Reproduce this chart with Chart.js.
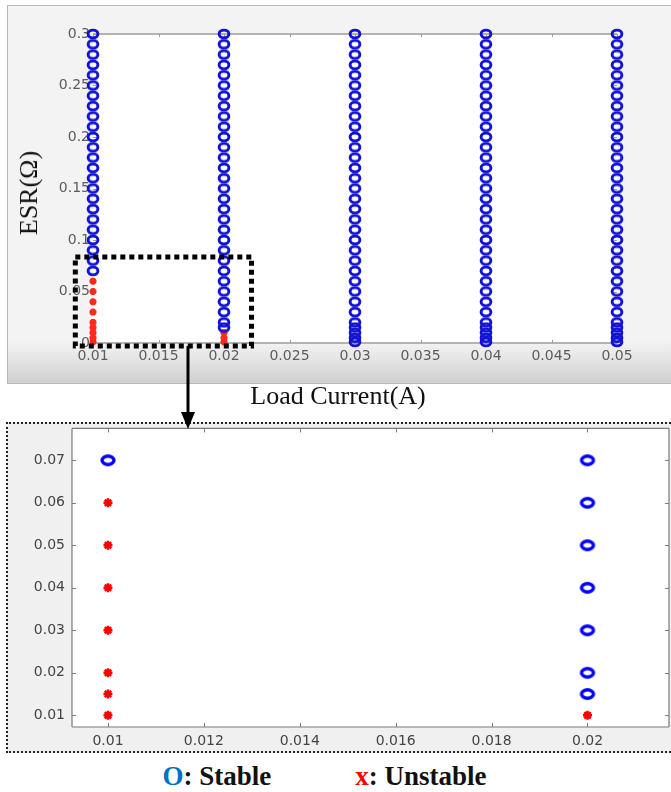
<!DOCTYPE html>
<html>
<head>
<meta charset="utf-8">
<script src="https://cdn.jsdelivr.net/npm/chart.js@4.4.1/dist/chart.umd.min.js"></script>
<style>
  body { margin: 0; background: #fff; width: 671px; height: 792px; position: relative; overflow: hidden; }
  .abs { position: absolute; }
  #topPanel { left: 7px; top: 5px; width: 670px; height: 377px; border: 1px solid #b8b8b8;
    background: linear-gradient(to bottom, #f3f3f3 0%, #f3f3f3 89%, #e4e4e4 94%, #cfcfcf 100%); }
  #zoomFrame { left: 6px; top: 422px; width: 668px; height: 327px; border: 2px dotted #222; background: #f0f0f0; }
  .serif { font-family: "Liberation Serif", "Times New Roman", serif; color: #111; white-space: nowrap; }
  #esrTitle { left: 29px; top: 193px; font-size: 26px; transform: translate(-50%, -50%) rotate(-90deg); }
  #loadTitle { left: 338px; top: 396px; font-size: 26px; transform: translate(-50%, -50%); }
  #legend { left: -11px; top: 761px; width: 671px; text-align: center; font-size: 27px; font-weight: bold; }
</style>
</head>
<body>
<div id="topPanel" class="abs"></div>
<canvas id="topChart" class="abs" width="671" height="383" style="left:0;top:0"></canvas>
<div id="esrTitle" class="abs serif">ESR(Ω)</div>
<div id="loadTitle" class="abs serif">Load Current(A)</div>

<div id="zoomFrame" class="abs"></div>
<canvas id="zoomChart" class="abs" width="676" height="332" style="left:0;top:413px"></canvas>

<svg class="abs" style="left:0;top:0" width="671" height="440">
  <line x1="188" y1="346" x2="188" y2="414" stroke="#000" stroke-width="3"/>
  <polygon points="181,412 195,412 188,429" fill="#000"/>
</svg>

<div id="legend" class="abs serif"><span style="color:#0070c0">O</span>: Stable<span style="display:inline-block;width:84px"></span><span style="color:#ff0000">x</span>: Unstable</div>

<script>
// load currents swept (A) and ESR values swept (ohm)
const loadCurrents = [0.01, 0.02, 0.03, 0.04, 0.05];
const esrSweep = [0.001, 0.005, 0.01, 0.015, 0.02, 0.03, 0.04, 0.05, 0.06, 0.07, 0.08, 0.09, 0.1,
  0.11, 0.12, 0.13, 0.14, 0.15, 0.16, 0.17, 0.18, 0.19, 0.2, 0.21, 0.22, 0.23, 0.24, 0.25,
  0.26, 0.27, 0.28, 0.29, 0.3];
// smallest ESR that is still stable, per load current
const stableFromEsr = [0.07, 0.015, 0.001, 0.001, 0.001];

const topXTicks = [0.01, 0.015, 0.02, 0.025, 0.03, 0.035, 0.04, 0.045, 0.05];
const topYTicks = [0, 0.05, 0.1, 0.15, 0.2, 0.25, 0.3];

// zoomed window
const zoomCurrents = [0.01, 0.02];
const zoomEsr = [0.01, 0.015, 0.02, 0.03, 0.04, 0.05, 0.06, 0.07];
const zoomXTicks = [0.01, 0.012, 0.014, 0.016, 0.018, 0.02];
const zoomYTicks = [0.01, 0.02, 0.03, 0.04, 0.05, 0.06, 0.07];

// dotted box drawn on the top plot (data units)
const zoomBox = { x0: 0.00865, x1: 0.0221, y0: -0.003, y1: 0.0835 };

function splitPoints(currents, esrs) {
  const stable = [], unstable = [];
  currents.forEach(c => {
    const limit = stableFromEsr[loadCurrents.indexOf(c)];
    esrs.forEach(r => {
      if (r >= limit) stable.push({ x: c, y: r });
      else unstable.push({ x: c, y: r });
    });
  });
  return { stable, unstable };
}

function fmt(v) { return String(Number(v.toFixed(4))); }

// the matlab export is a bit stretched sideways, so rings are ellipses
function ringImage(w, h, rx, ry, lw, color) {
  const c = document.createElement('canvas');
  c.width = w; c.height = h;
  const g = c.getContext('2d');
  g.strokeStyle = color;
  g.lineWidth = lw;
  g.beginPath();
  g.ellipse(w / 2, h / 2, rx, ry, 0, 0, Math.PI * 2);
  g.stroke();
  return c;
}

// white axes background + box lines + inward tick marks
const framePlugin = {
  id: 'frame',
  beforeDatasetsDraw(chart, args, opts) {
    const a = chart.chartArea, ctx = chart.ctx;
    ctx.save();
    ctx.strokeStyle = opts.color;
    ctx.lineWidth = opts.width;
    ctx.beginPath();
    if (opts.sides.includes('t')) { ctx.moveTo(a.left, a.top); ctx.lineTo(a.right, a.top); }
    if (opts.sides.includes('b')) { ctx.moveTo(a.left, a.bottom); ctx.lineTo(a.right, a.bottom); }
    if (opts.sides.includes('l')) { ctx.moveTo(a.left, a.top); ctx.lineTo(a.left, a.bottom); }
    if (opts.sides.includes('r')) { ctx.moveTo(a.right, a.top); ctx.lineTo(a.right, a.bottom); }
    ctx.stroke();
    ctx.lineWidth = 1;
    ctx.beginPath();
    const L = opts.tick;
    chart.scales.x.ticks.forEach(t => {
      const px = Math.round(chart.scales.x.getPixelForValue(t.value)) + 0.5;
      ctx.moveTo(px, a.top); ctx.lineTo(px, a.top + L);
      ctx.moveTo(px, a.bottom); ctx.lineTo(px, a.bottom - L);
    });
    chart.scales.y.ticks.forEach(t => {
      const py = Math.round(chart.scales.y.getPixelForValue(t.value)) + 0.5;
      ctx.moveTo(a.left, py); ctx.lineTo(a.left + L, py);
      ctx.moveTo(a.right, py); ctx.lineTo(a.right - L, py);
    });
    ctx.stroke();
    ctx.restore();
  },
  beforeDraw(chart) {
    const a = chart.chartArea, ctx = chart.ctx;
    ctx.save();
    ctx.fillStyle = '#fff';
    ctx.fillRect(a.left, a.top, a.right - a.left, a.bottom - a.top);
    ctx.restore();
  }
};

const boxPlugin = {
  id: 'zoomBox',
  afterDatasetsDraw(chart) {
    const x = chart.scales.x, y = chart.scales.y, ctx = chart.ctx;
    const l = x.getPixelForValue(zoomBox.x0), r = x.getPixelForValue(zoomBox.x1);
    const t = y.getPixelForValue(zoomBox.y1), b = y.getPixelForValue(zoomBox.y0);
    ctx.save();
    ctx.strokeStyle = '#000';
    ctx.lineWidth = 5;
    ctx.setLineDash([5, 4]);
    ctx.strokeRect(l, t, r - l, b - t);
    ctx.restore();
  }
};

function makeScales(o) {
  return {
    x: {
      type: 'linear', min: o.xmin, max: o.xmax,
      afterBuildTicks: s => { s.ticks = o.xticks.map(v => ({ value: v })); },
      afterFit: s => { s.height = o.xh; },
      grid: { display: false, drawTicks: false }, border: { display: false },
      ticks: { callback: v => fmt(v), color: o.color, padding: o.xpad,
        font: { family: 'DejaVu Sans', size: o.fs }, maxRotation: 0, autoSkip: false }
    },
    y: {
      type: 'linear', min: o.ymin, max: o.ymax,
      afterBuildTicks: s => { s.ticks = o.yticks.map(v => ({ value: v })); },
      afterFit: s => { s.width = o.yw; },
      grid: { display: false, drawTicks: false }, border: { display: false },
      ticks: { callback: v => fmt(v), color: o.color, padding: o.ypad,
        font: { family: 'DejaVu Sans', size: o.fs }, autoSkip: false }
    }
  };
}

const mainPts = splitPoints(loadCurrents, esrSweep);
new Chart(document.getElementById('topChart'), {
  type: 'scatter',
  data: {
    datasets: [
      { label: 'Stable', data: mainPts.stable, pointStyle: ringImage(14, 12, 4.9, 3.9, 2.9, '#1212d4'),
        clip: false },
      { label: 'Unstable', data: mainPts.unstable, pointStyle: 'star', pointRadius: 3.5, pointBorderWidth: 2.5,
        pointBorderColor: '#ff2a1a', pointBackgroundColor: '#ff2a1a', clip: false }
    ]
  },
  options: {
    responsive: false, animation: false, devicePixelRatio: 1,
    layout: { padding: { top: 34, right: 54, left: 0, bottom: 0 } },
    plugins: { legend: { display: false }, tooltip: { enabled: false },
      frame: { color: '#9c9c9c', width: 1.5, sides: 'tb', tick: 3 } },
    scales: makeScales({ xmin: 0.01, xmax: 0.05, ymin: 0, ymax: 0.3, xticks: topXTicks, yticks: topYTicks,
      xh: 40, yw: 93, xpad: 5, ypad: 3, fs: 14, color: '#5c5c5c' })
  },
  plugins: [framePlugin, boxPlugin]
});

const zoomPts = splitPoints(zoomCurrents, zoomEsr);
new Chart(document.getElementById('zoomChart'), {
  type: 'scatter',
  data: {
    datasets: [
      { label: 'Stable', data: zoomPts.stable, pointStyle: ringImage(18, 14, 6, 4.2, 3.4, '#0000ff'),
        clip: false },
      { label: 'Unstable', data: zoomPts.unstable, pointStyle: 'star', pointRadius: 4.5, pointBorderWidth: 2.5,
        pointBorderColor: '#ff0000', pointBackgroundColor: '#ff0000', clip: false }
    ]
  },
  options: {
    responsive: false, animation: false, devicePixelRatio: 1,
    layout: { padding: 0 },
    plugins: { legend: { display: false }, tooltip: { enabled: false },
      frame: { color: '#7a7a7a', width: 1.2, sides: 'tblr', tick: 4 } },
    scales: makeScales({ xmin: 0.00925, xmax: 0.0217, ymin: 0.00725, ymax: 0.0775, xticks: zoomXTicks,
      yticks: zoomYTicks, xh: 18, yw: 72, xpad: 6, ypad: 7, fs: 14, color: '#444' })
  },
  plugins: [framePlugin]
});
</script>
</body>
</html>
